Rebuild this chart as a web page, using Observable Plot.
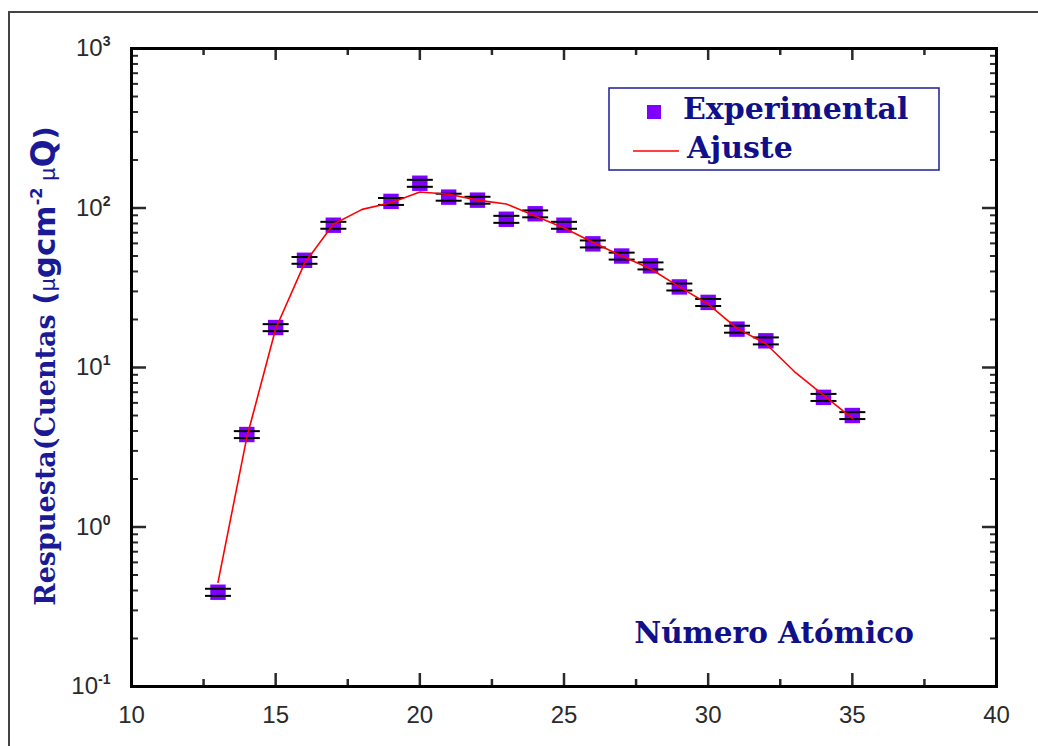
<!DOCTYPE html>
<html><head><meta charset="utf-8">
<script src="https://cdn.jsdelivr.net/npm/d3@7"></script>
<script src="https://cdn.jsdelivr.net/npm/@observablehq/plot@0.6"></script>
<style>
body{margin:0;background:#fff;}
#wrap{position:relative;width:1038px;height:746px;overflow:hidden;background:#fff;}
#border{position:absolute;left:8px;top:11px;width:1100px;height:800px;border-left:2px solid #444;border-top:2px solid #444;}
#wrap svg{position:absolute;left:0;top:0;}
</style></head><body>
<div id="wrap"><div id="border"></div></div>
<script>
// ---- data ----
const atomicNumber = [13,14,15,16,17,19,20,21,22,23,24,25,26,27,28,29,30,31,32,34,35];
const response = [0.39,3.8,17.8,47,78,110,143,117,112,85,92,78,59.6,50,43.4,32,25.6,17.4,14.7,6.5,5.0];
const responseError = [0.02,0.19,0.9,2.3,3.9,5.5,7.2,5.9,5.6,4.3,4.6,3.9,3.0,2.5,2.2,1.6,1.3,0.87,0.74,0.33,0.25];
const fitZ = [13,14,15,16,17,18,19,20,21,22,23,24,25,26,27,28,29,30,31,32,33,34,35];
const fitResponse = [0.45,3.65,17.5,45,79,98,108,126,122,112,106,89,75,61,50,41.6,32,25,17.6,14.1,9.4,6.7,4.8];
const xTicks = [10,15,20,25,30,35,40];
const xMinorTicks = [12.5,17.5,22.5,27.5,32.5,37.5];
const yTicks = [0.1,1,10,100,1000];
const yTickLabels = ["10^-1","10^0","10^1","10^2","10^3"];
const yMinorTicks = [];
for (const decade of [0.1,1,10,100]) for (const m of [2,3,4,5,6,7,8,9]) yMinorTicks.push(+(decade*m).toPrecision(3));
const legendLabels = ["Experimental","Ajuste"];
const xTitle = "Número Atómico";

const points = atomicNumber.map((z,i)=>({z, v:response[i], e:responseError[i]}));
const fit = fitZ.map((z,i)=>({z, v:fitResponse[i]}));

const capSymbol = {draw(ctx){ ctx.moveTo(-13,0); ctx.lineTo(13,0); }};
const serif = "'DejaVu Serif', serif";
const sans = "'DejaVu Sans', sans-serif";
const navy = "#10108a";

const chart = Plot.plot({
  width:1038, height:746,
  marginLeft:131, marginRight:42, marginTop:48, marginBottom:60,
  style:{fontFamily:"'Liberation Sans', Arial, sans-serif", fontSize:"24px", color:"#2a2a2a", background:"transparent", overflow:"visible"},
  x:{domain:[10,40]},
  y:{type:"log", domain:[0.1,1000]},
  marks:[
    Plot.ruleX(points, {x:"z", y1:d=>d.v-d.e, y2:d=>d.v+d.e, stroke:"black", strokeWidth:1.5}),
    Plot.dot(points, {x:"z", y:"v", symbol:"square", r:8.7, fill:"#8000ff", stroke:"none"}),
    Plot.dot(points, {x:"z", y:d=>d.v+d.e, symbol:capSymbol, fill:"none", stroke:"black", strokeWidth:2}),
    Plot.dot(points, {x:"z", y:d=>d.v-d.e, symbol:capSymbol, fill:"none", stroke:"black", strokeWidth:2}),
    Plot.line(fit, {x:"z", y:"v", stroke:"#ff0000", strokeWidth:1.6}),
    // axes labels
    Plot.axisX({ticks:xTicks, anchor:"bottom", tickSize:0, tickPadding:19, label:null}),
    Plot.axisY({ticks:yTicks, anchor:"left", tickSize:0, tickPadding:21, label:null,
      tickFormat:(d)=>yTickLabels[yTicks.indexOf(d)]}),
    // inward ticks (shifted into the frame)
    Plot.axisX({ticks:xTicks, anchor:"bottom", tickSize:13, dy:-13, fill:"none", strokeWidth:2.5, label:null}),
    Plot.axisX({ticks:xMinorTicks, anchor:"bottom", tickSize:7, dy:-7, fill:"none", strokeWidth:2.5, label:null}),
    Plot.axisX({ticks:xTicks, anchor:"top", tickSize:11, dy:11, fill:"none", strokeWidth:2.5, label:null}),
    Plot.axisX({ticks:xMinorTicks, anchor:"top", tickSize:6, dy:6, fill:"none", strokeWidth:2.5, label:null}),
    Plot.axisY({ticks:yTicks, anchor:"left", tickSize:15, dx:15, fill:"none", strokeWidth:2.5, label:null}),
    Plot.axisY({ticks:yMinorTicks, anchor:"left", tickSize:7, dx:7, fill:"none", strokeWidth:2, label:null}),
    Plot.axisY({ticks:yTicks, anchor:"right", tickSize:15, dx:-15, fill:"none", strokeWidth:2.5, label:null}),
    Plot.axisY({ticks:yMinorTicks, anchor:"right", tickSize:7, dx:-7, fill:"none", strokeWidth:2, label:null}),
    Plot.frame({stroke:"black", strokeWidth:3})
  ]
});

const svg = d3.select(chart);
// superscript exponents on y tick labels
svg.selectAll('g[aria-label="y-axis tick label"] text').each(function(){
  const t = d3.select(this);
  const parts = t.text().split("^");
  if (parts.length < 2) return;
  t.text(null);
  t.append("tspan").text(parts[0]);
  t.append("tspan").attr("dy","-10").attr("font-size","14px").attr("font-weight","bold").text(parts[1]);
});

// legend
const lg = svg.append("g").attr("text-anchor","start");
lg.append("rect").attr("x",609).attr("y",88).attr("width",330).attr("height",82)
  .attr("fill","white").attr("stroke","#1c1c9a").attr("stroke-width",1.5);
lg.append("rect").attr("x",647).attr("y",105).attr("width",14).attr("height",14).attr("fill","#8000ff");
lg.append("line").attr("x1",633).attr("x2",679).attr("y1",151).attr("y2",151).attr("stroke","#ff0000").attr("stroke-width",1.6);
lg.append("text").attr("x",683).attr("y",119).attr("font-family",serif).attr("font-weight","bold")
  .attr("font-size",30).attr("fill",navy).text(legendLabels[0]);
lg.append("text").attr("x",687).attr("y",158).attr("font-family",serif).attr("font-weight","bold")
  .attr("font-size",30).attr("fill",navy).text(legendLabels[1]);

// x title inside plot
svg.append("text").attr("x",774).attr("y",643).attr("text-anchor","middle").attr("font-family",serif)
  .attr("font-weight","bold").attr("font-size",29.5).attr("fill",navy).text(xTitle);

// y title
const yt = svg.append("text").attr("transform","translate(55,366) rotate(-90)").attr("text-anchor","middle")
  .attr("fill","#1a1a96").attr("font-weight","bold");
yt.append("tspan").attr("font-family",serif).attr("font-size",27).text("Respuesta(Cuentas ");
yt.append("tspan").attr("font-family",sans).attr("font-size",29).text("(");
yt.append("tspan").attr("font-family",sans).attr("font-size",21).attr("font-weight","normal").text("μ");
yt.append("tspan").attr("font-family",sans).attr("font-size",31).text("gcm");
yt.append("tspan").attr("font-family",sans).attr("font-size",16).attr("dy",-13).text("-2");
yt.append("tspan").attr("font-family",sans).attr("font-size",21).attr("dy",13).attr("font-weight","normal").text(" μ");
yt.append("tspan").attr("font-family",sans).attr("font-size",33).text("Q");
yt.append("tspan").attr("font-family",sans).attr("font-size",29).text(")");

document.getElementById("wrap").appendChild(chart);
</script>
</body></html>
